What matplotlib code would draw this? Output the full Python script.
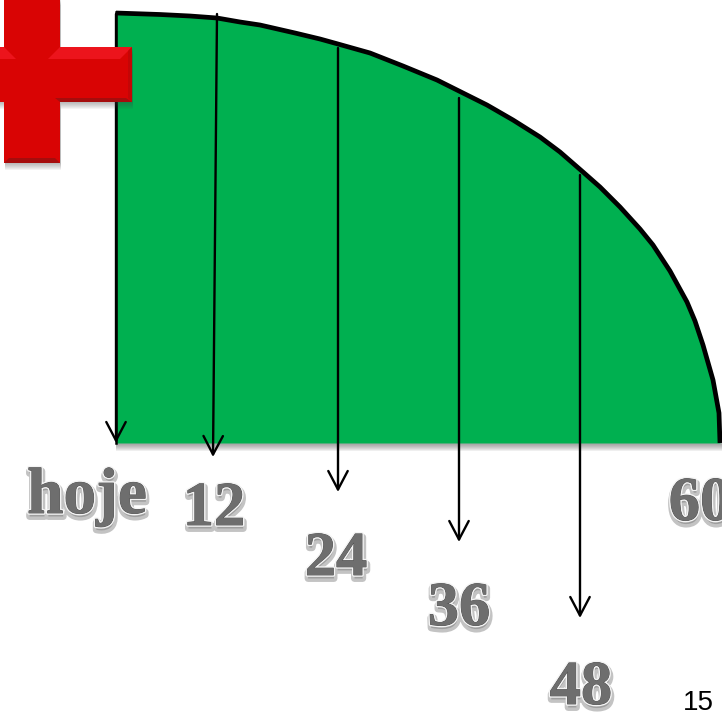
import numpy as np
import matplotlib
matplotlib.use('Agg')
import matplotlib.pyplot as plt
import matplotlib.patheffects as pe
from matplotlib.patches import Polygon

# valores (pixels)
curva_x = [116, 160, 190, 217, 240, 260, 295, 320, 338, 370, 403, 437, 459, 487, 513, 540, 560, 583,
           600, 620, 640, 653, 670, 687, 695, 703, 713, 719, 720]
curva_y = [13, 14.5, 16, 18, 22, 25, 33, 39, 44, 53, 66, 80, 91, 105, 120, 137, 152, 172,
           187, 207, 229, 245, 271, 302, 321, 345, 380, 413, 443]
base_y = 443

seta_x0 = [116, 217, 338, 459, 580]
seta_x1 = [116, 213, 338, 459, 580]
seta_y0 = [14, 14, 48, 98, 175]
seta_y1 = [443, 457, 492, 542, 618]

rotulos = ['hoje', '12', '24', '36', '48', '60']
rotulo_x = [87, 214, 336, 459, 581, 700]
rotulo_y = [497, 510, 560, 610, 689, 505]
rotulo_tam = [47, 45, 45, 45, 45, 45]

verde = '#00B050'
vermelho = '#D90404'

fig = plt.figure(figsize=(7.22, 7.17), dpi=100)
ax = fig.add_axes([0, 0, 1, 1])
ax.set_xlim(0, 722)
ax.set_ylim(717, 0)
ax.axis('off')

# sombra embaixo da area verde
for i in range(7):
    ax.fill_between([116, 722], base_y, base_y + 8 - i, color='#555555', alpha=0.09, lw=0, zorder=1)

ax.fill_between(curva_x, curva_y, base_y, color=verde, lw=0, zorder=2)
ax.plot(curva_x, curva_y, color='black', lw=3.4, solid_capstyle='butt', solid_joinstyle='round', zorder=3)
ax.plot([116, 116], [12, base_y], color='black', lw=1.8, zorder=3)

# setas
for x0, x1, y0, y1 in zip(seta_x0, seta_x1, seta_y0, seta_y1):
    ax.annotate('', xy=(x1, y1), xytext=(x0, y0), zorder=4,
                arrowprops=dict(arrowstyle='->,head_length=0.95,head_width=0.5', color='black',
                                lw=1.7, shrinkA=0, shrinkB=0, mutation_scale=14))

# cruz vermelha
cruz = [(4, -2), (60, -2), (60, 47), (132, 47), (132, 102), (60, 102), (60, 163), (4, 163),
        (4, 102), (-2, 102), (-2, 47), (4, 47)]
for i in range(7):
    d = i + 1
    ax.add_patch(Polygon([(x + 1, y + d) for x, y in cruz], closed=True, fc='#444444', ec='none',
                         alpha=0.06, zorder=5))
ax.add_patch(Polygon(cruz, closed=True, fc=vermelho, ec='none', zorder=6))
# chanfros
ax.add_patch(Polygon([(60, 47), (132, 47), (120, 59), (48, 59)], closed=True, fc='#EC141C', ec='none', zorder=7))
ax.add_patch(Polygon([(-2, 47), (4, 47), (16, 59), (-2, 59)], closed=True, fc='#EC141C', ec='none', zorder=7))
ax.add_patch(Polygon([(126, 98), (132, 102), (60, 102), (55, 98)], closed=True, fc='#A50D0D', ec='none', zorder=7))
ax.add_patch(Polygon([(9, 158), (55, 158), (60, 163), (4, 163)], closed=True, fc='#A50D0D', ec='none', zorder=7))
ax.add_patch(Polygon([(128, 51), (132, 47), (132, 102), (128, 98)], closed=True, fc='#C40606', ec='none', zorder=7))

# rotulos
efeito = [pe.Stroke(linewidth=5, foreground='#7a7a7a', alpha=0.45, offset=(0.5, -2.5)),
          pe.Stroke(linewidth=2.6, foreground='#f4f4f4'),
          pe.Stroke(linewidth=0.6, foreground='#4d4d4d'),
          pe.Normal()]
for t, x, y, tam in zip(rotulos, rotulo_x, rotulo_y, rotulo_tam):
    ax.text(x, y, t, fontsize=tam, family='Liberation Serif', weight='bold',
            color='#6e6e6e', ha='center', va='center', zorder=8, path_effects=efeito)

ax.text(683, 703, '15', fontsize=20, family='Liberation Sans', color='black', ha='left', va='center', zorder=8)

fig.savefig('out.png', dpi=100, facecolor='white')
